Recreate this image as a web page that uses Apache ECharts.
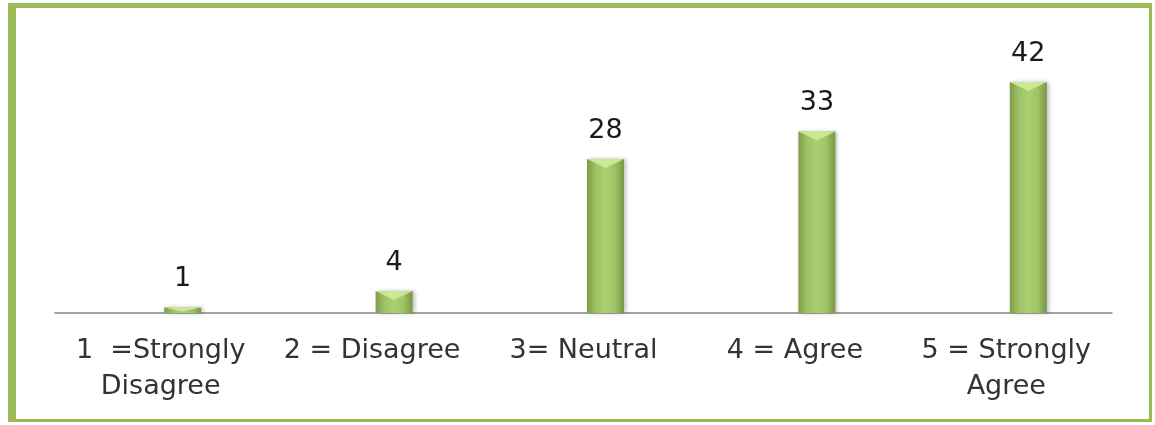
<!DOCTYPE html>
<html>
<head>
<meta charset="utf-8">
<script src="https://cdn.jsdelivr.net/npm/echarts@6/dist/echarts.min.js"></script>
<style>
  html, body { margin: 0; padding: 0; background: #fff; }
  #chart { width: 1155px; height: 425px; }
  /* green frame round the chart */
  #frame {
    position: absolute; left: 8px; top: 3px;
    width: 1144px; height: 419px;
    border-left: 8px solid #9bbb59;
    border-top: 5px solid #9bbb59;
    border-right: 3px solid #9bbb59;
    border-bottom: 3px solid #9bbb59;
    box-sizing: border-box;
    pointer-events: none;
  }
</style>
</head>
<body>
<div id="chart"></div>
<div id="frame"></div>
<script>
// data
const categories = ['1  =Strongly\nDisagree', '2 = Disagree', '3= Neutral', '4 = Agree', '5 = Strongly\nAgree'];
const counts = [1, 4, 28, 33, 42];

const chart = echarts.init(document.getElementById('chart'));

const barColor = new echarts.graphic.LinearGradient(0, 0, 1, 0, [
    { offset: 0, color: '#7f9c48' },
    { offset: 0.25, color: '#9fc466' },
    { offset: 0.5, color: '#a9cf70' },
    { offset: 0.75, color: '#9fc466' },
    { offset: 1, color: '#7a9645' }
]);

const option = {
    animation: false,
    textStyle: { fontFamily: 'DejaVu Sans' },
    grid: [
        // axis line + category labels
        { left: 55, right: 43, top: 82, bottom: 112 },
        // bars (sit a bit right of the label bands, as in the picture)
        { left: 77, right: 21, top: 82, bottom: 112 }
    ],
    xAxis: [
        {
            type: 'category',
            gridIndex: 0,
            data: categories,
            axisLine: { lineStyle: { color: '#868686', width: 1.5 } },
            axisTick: { show: false },
            axisLabel: {
                interval: 0,
                color: '#333333',
                fontSize: 27,
                lineHeight: 36,
                margin: 20,
                fontFamily: 'DejaVu Sans'
            }
        },
        {
            type: 'category',
            gridIndex: 1,
            data: categories,
            show: false
        }
    ],
    yAxis: [
        { type: 'value', gridIndex: 0, min: 0, max: 42, show: false },
        { type: 'value', gridIndex: 1, min: 0, max: 42, show: false }
    ],
    series: [
        {
            type: 'bar',
            xAxisIndex: 1,
            yAxisIndex: 1,
            data: counts,
            barWidth: 37,
            itemStyle: {
                color: barColor,
                shadowColor: 'rgba(0,0,0,0.25)',
                shadowBlur: 4,
                shadowOffsetX: 2
            },
            label: {
                show: true,
                position: 'top',
                distance: 15,
                color: '#1a1a1a',
                fontSize: 27,
                fontFamily: 'DejaVu Sans'
            },
            z: 2
        },
        {
            // pale bevel at the top of each bar
            type: 'pictorialBar',
            xAxisIndex: 1,
            yAxisIndex: 1,
            data: counts.map(v => ({
                value: v,
                symbolSize: v < 2 ? [37, 4] : [37, 9]
            })),
            symbol: 'path://M0,0 L40,0 L20,10 Z',
            symbolPosition: 'end',
            itemStyle: { color: '#d4ec9c', opacity: 0.85 },
            z: 3,
            silent: true
        }
    ]
};

chart.setOption(option);
</script>
</body>
</html>
